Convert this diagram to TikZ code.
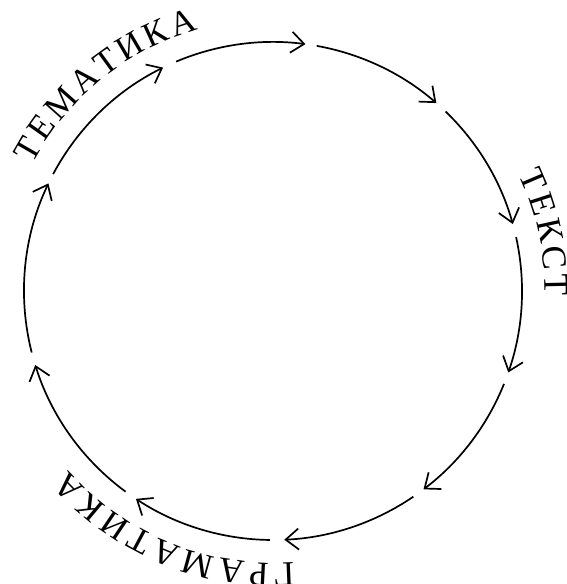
\documentclass[tikz,border=0pt]{standalone}
\usepackage{fontspec}
\setmainfont{Liberation Serif}
\usetikzlibrary{arrows.meta}
\tikzset{
  cyc/.style={line width=1.7pt, -{Straight Barb[length=13pt,width=21pt,line width=1.7pt]}},
  letter/.style={anchor=base, inner sep=0pt, font=\fontsize{35}{42}\selectfont},
}
\def\rb{272}
\newcommand\arcword[4]{% name, center angle, letter spacing, letters
  \gdef\awtotal{0}\gdef\awn{0}%
  \foreach \ch in {#4}{%
    \pgfmathsetmacro\chw{width("\ch")}%
    \pgfmathsetmacro\tmpa{\awtotal+\chw}\xdef\awtotal{\tmpa}%
    \pgfmathtruncatemacro\tmpn{\awn+1}\xdef\awn{\tmpn}}%
  \pgfmathsetmacro\tmpa{\awtotal+(\awn-1)*#3}\xdef\awtotal{\tmpa}%
  \gdef\awpos{0}%
  \foreach \ch [count=\i] in {#4}{%
    \pgfmathsetmacro\chw{width("\ch")}%
    \pgfmathsetmacro\ang{#2-(\awpos+\chw/2-\awtotal/2)/\rb*180/pi}%
    \node[letter, rotate=\ang-90] (#1\i) at (\ang:\rb) {\ch};
    \pgfmathsetmacro\tmpa{\awpos+\chw+#3}\xdef\awpos{\tmpa}}%
}
\begin{document}
\begin{tikzpicture}[x=1pt,y=1pt]
\fontsize{35}{42}\selectfont
\useasboundingbox (-273,-293) rectangle (293,291);
\clip (-273,-293) rectangle (293,291);
\foreach \s/\e [count=\k] in {112.9/82.5, 79.9/49.0, 46.1/15.6, 12.5/-19.1, -21.9/-52.8,
  -55.7/-87.4, -90.7/-123.4, -126.3/-162.7, -165.7/-205.6, -208/-243.8}{
  \coordinate (s\k) at (\s:249);
  \draw[cyc] (s\k) arc[start angle=\s, end angle=\e, radius=249];
}
\arcword{tem}{129.1}{3.6}{Т,Е,М,А,Т,И,К,А}
\arcword{tek}{12.2}{3.6}{Т,Е,К,С,Т}
\arcword{gra}{247.8}{4.5}{Г,Р,А,М,А,Т,И,К,А}
\end{tikzpicture}
\end{document}
